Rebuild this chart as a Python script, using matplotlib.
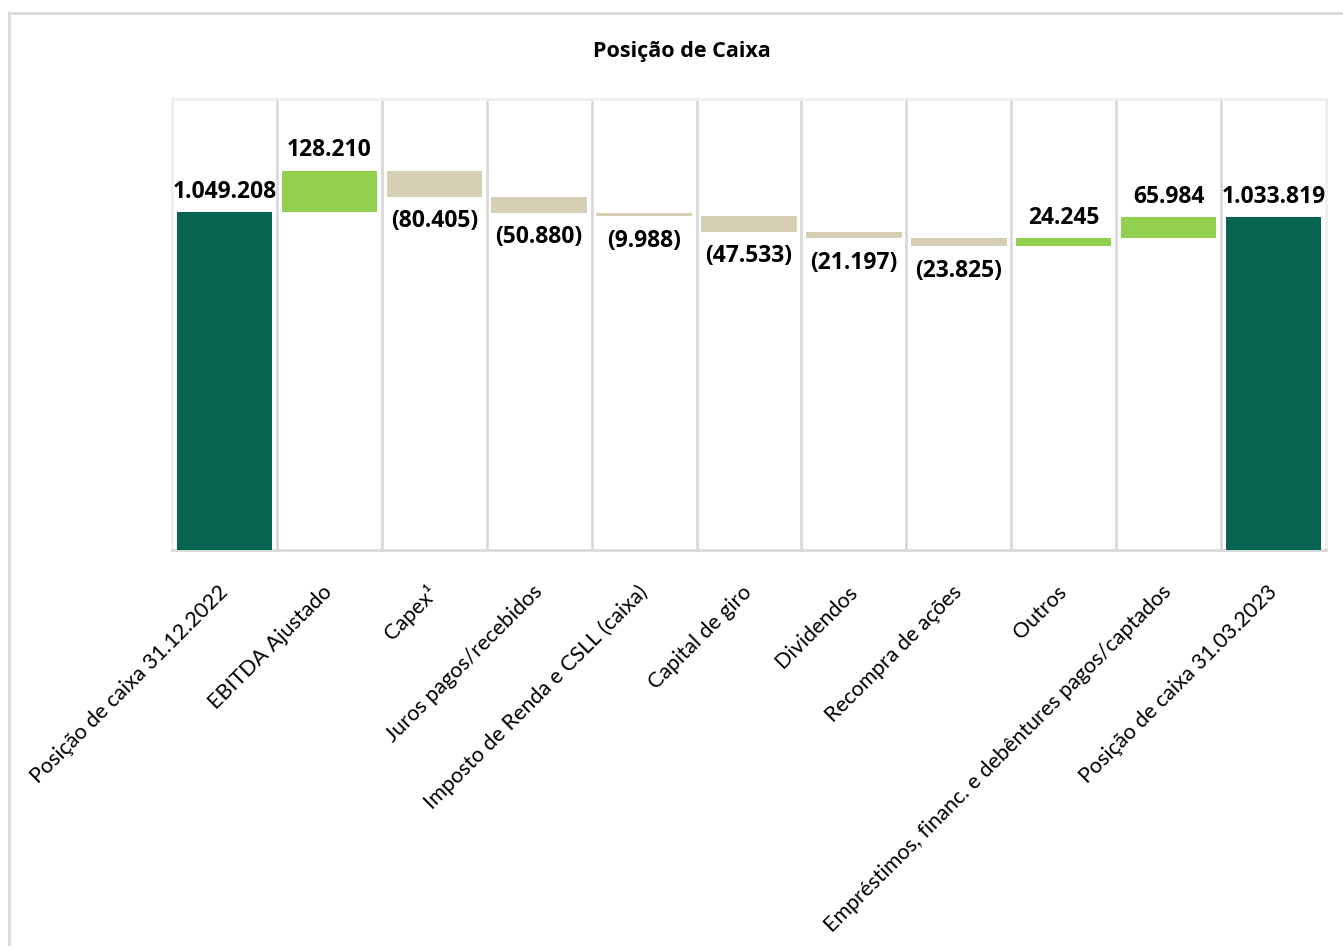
import matplotlib.pyplot as plt
from matplotlib.lines import Line2D

# Posição de caixa - cascata (valores em R$ mil)
categorias = ["Posição de caixa 31.12.2022", "EBITDA Ajustado", "Capex¹",
              "Juros pagos/recebidos", "Imposto de Renda e CSLL (caixa)",
              "Capital de giro", "Dividendos", "Recompra de ações", "Outros",
              "Empréstimos, financ. e debêntures pagos/captados",
              "Posição de caixa 31.03.2023"]
valores = [1049208, 128210, -80405, -50880, -9988, -47533, -21197, -23825,
           24245, 65984, 1033819]
tipo = ["total", "var", "var", "var", "var", "var", "var", "var", "var", "var", "total"]

cor_total = "#07644F"
cor_pos = "#92D050"
cor_neg = "#D5CFB5"


def fmt(v):
    s = f"{abs(v):,}".replace(",", ".")
    return f"({s})" if v < 0 else s


plt.rcParams["font.family"] = ["Lato", "DejaVu Sans"]
fonte_bold = ["Open Sans", "DejaVu Sans"]

fig = plt.figure(figsize=(13.43, 9.46), dpi=100)
ax = fig.add_axes([172 / 1343, 1 - 550 / 946, (1326 - 172) / 1343, (550 - 99) / 946])

acum = 0
for i, (v, t) in enumerate(zip(valores, tipo)):
    if t == "total":
        base, altura, cor = 0, v, cor_total
        acum = v
    else:
        base = acum if v > 0 else acum + v
        altura = abs(v)
        cor = cor_pos if v > 0 else cor_neg
        acum += v
    ax.bar(i, altura, bottom=base, width=0.91, color=cor, zorder=3)
    if v > 0:
        ax.annotate(fmt(v), (i, base + altura), xytext=(0, 6), textcoords="offset points",
                    ha="center", va="bottom", fontsize=16.5, fontweight="bold",
                    family=fonte_bold)
    else:
        ax.annotate(fmt(v), (i, base), xytext=(0, -9), textcoords="offset points",
                    ha="center", va="top", fontsize=16.5, fontweight="bold",
                    family=fonte_bold)

ax.set_xlim(-0.5, len(categorias) - 0.5)
ax.set_ylim(0, 1400000)
ax.set_yticks([])

# linhas verticais entre categorias
for b in range(1, len(categorias)):
    ax.axvline(b - 0.5, color="#D9D9D9", lw=2, zorder=1)

for s in ["left", "right", "top"]:
    ax.spines[s].set_color("#EFEFEF")
    ax.spines[s].set_linewidth(2)
ax.spines["bottom"].set_color("#D9D9D9")
ax.spines["bottom"].set_linewidth(2)

ax.set_xticks(range(len(categorias)))
ax.set_xticklabels(categorias, rotation=45, ha="right", va="center",
                   rotation_mode="anchor", fontsize=15.5)
ax.tick_params(axis="x", length=0, pad=28)

fig.text(682 / 1343, 1 - 51 / 946, "Posição de Caixa", ha="center", va="center",
         fontsize=15.5, fontweight="bold", family=fonte_bold)

# borda externa do gráfico
fig.add_artist(Line2D([9 / 1343, 9 / 1343], [0, 1 - 13 / 946], color="#D9D9D9", lw=2,
                      transform=fig.transFigure))
fig.add_artist(Line2D([9 / 1343, 1], [1 - 13 / 946, 1 - 13 / 946], color="#D9D9D9", lw=2,
                      transform=fig.transFigure))

fig.savefig("out.png", dpi=100)
